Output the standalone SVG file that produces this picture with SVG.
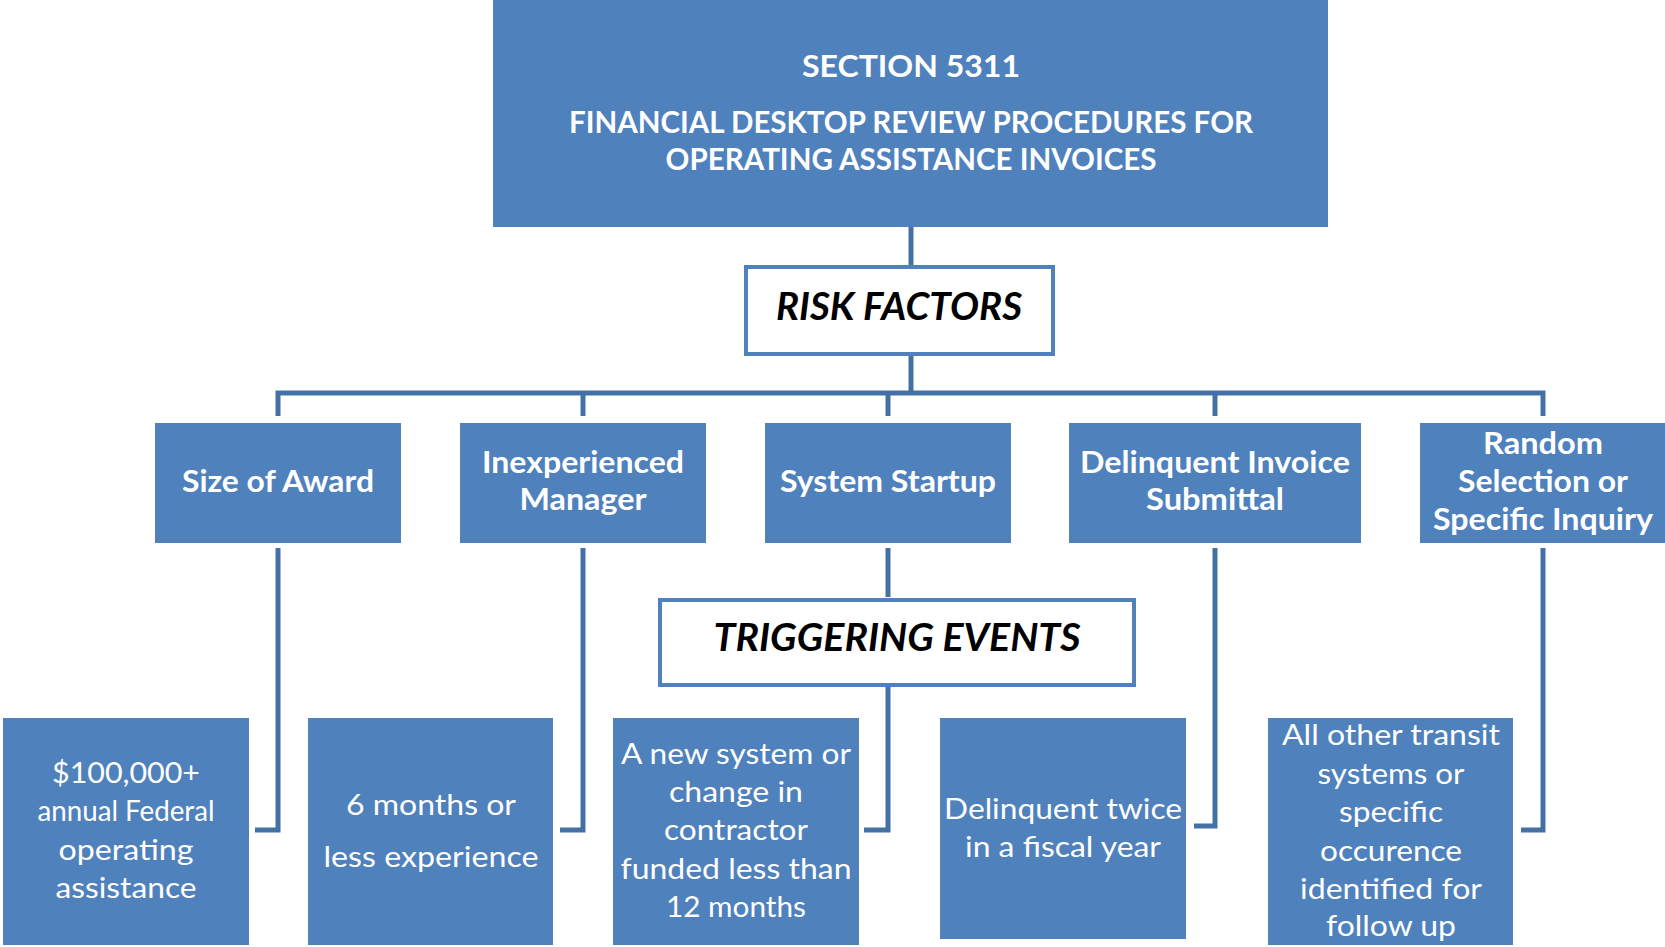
<svg xmlns="http://www.w3.org/2000/svg" width="1665" height="947" viewBox="0 0 1665 947">
  <style>
    .box { fill: #4F81BD; }
    .frame { fill: #FFFFFF; stroke: #4F81BD; stroke-width: 4; }
    .link { fill: none; stroke: #4570A6; stroke-width: 5; stroke-linejoin: miter; }
    text { text-anchor: middle; font-family: Lato, "Liberation Sans", sans-serif; }
    .title { font-weight: bold; font-size: 31px; fill: #FFFFFF; }
    .head { font-weight: bold; font-style: italic; font-size: 38px; fill: #000000; }
    .factor { font-weight: bold; font-size: 30px; fill: #FFFFFF; }
    .event { font-size: 29px; fill: #FFFFFF; }
  </style>

  <rect width="1665" height="947" fill="#FFFFFF"/>

  <!-- connectors -->
  <g id="connectors">
    <path class="link" d="M911 227 V265"/>
    <path class="link" d="M911 355 V393"/>
    <path class="link" d="M278 416 V393 H1543 V416"/>
    <path class="link" d="M583 393 V416"/>
    <path class="link" d="M888 393 V416"/>
    <path class="link" d="M1215 393 V416"/>
    <path class="link" d="M278 548 V830 H255"/>
    <path class="link" d="M583 548 V830 H560"/>
    <path class="link" d="M888 548 V597"/>
    <path class="link" d="M888 687 V830 H864"/>
    <path class="link" d="M1215 548 V826 H1194"/>
    <path class="link" d="M1543 548 V830 H1521"/>
  </g>

  <!-- title -->
  <g id="section-5311">
    <rect class="box" x="493" y="0" width="835" height="227"/>
    <text class="title" x="911" y="77" textLength="218" lengthAdjust="spacingAndGlyphs">SECTION 5311</text>
    <text class="title" x="911" y="133" textLength="684" lengthAdjust="spacingAndGlyphs">FINANCIAL DESKTOP REVIEW PROCEDURES FOR</text>
    <text class="title" x="911" y="170" textLength="491" lengthAdjust="spacingAndGlyphs">OPERATING ASSISTANCE INVOICES</text>
  </g>

  <g id="risk-factors">
    <rect class="frame" x="746" y="267" width="307" height="87"/>
    <text class="head" x="899" y="320" textLength="246" lengthAdjust="spacingAndGlyphs">RISK FACTORS</text>
  </g>

  <!-- risk factor boxes -->
  <g id="size-of-award">
    <rect class="box" x="155" y="423" width="246" height="120"/>
    <text class="factor" x="278" y="492" textLength="192" lengthAdjust="spacingAndGlyphs">Size of Award</text>
  </g>
  <g id="inexperienced-manager">
    <rect class="box" x="460" y="423" width="246" height="120"/>
    <text class="factor" x="583" y="473" textLength="202" lengthAdjust="spacingAndGlyphs">Inexperienced</text>
    <text class="factor" x="583" y="510" textLength="127" lengthAdjust="spacingAndGlyphs">Manager</text>
  </g>
  <g id="system-startup">
    <rect class="box" x="765" y="423" width="246" height="120"/>
    <text class="factor" x="888" y="492" textLength="216" lengthAdjust="spacingAndGlyphs">System Startup</text>
  </g>
  <g id="delinquent-invoice">
    <rect class="box" x="1069" y="423" width="292" height="120"/>
    <text class="factor" x="1215" y="473" textLength="270" lengthAdjust="spacingAndGlyphs">Delinquent Invoice</text>
    <text class="factor" x="1215" y="510" textLength="138" lengthAdjust="spacingAndGlyphs">Submittal</text>
  </g>
  <g id="random-selection">
    <rect class="box" x="1420" y="423" width="245" height="120"/>
    <text class="factor" x="1543" y="454" textLength="120" lengthAdjust="spacingAndGlyphs">Random</text>
    <text class="factor" x="1543" y="492" textLength="170" lengthAdjust="spacingAndGlyphs">Selection or</text>
    <text class="factor" x="1543" y="530" textLength="220" lengthAdjust="spacingAndGlyphs">Specific Inquiry</text>
  </g>

  <g id="triggering-events">
    <rect class="frame" x="660" y="600" width="474" height="85"/>
    <text class="head" x="897" y="651" textLength="367" lengthAdjust="spacingAndGlyphs">TRIGGERING EVENTS</text>
  </g>

  <!-- triggering event boxes -->
  <g id="event-award">
    <rect class="box" x="3" y="718" width="246" height="227"/>
    <text class="event" x="126" y="783" textLength="148" lengthAdjust="spacingAndGlyphs">$100,000+</text>
    <text class="event" x="126" y="821" textLength="177" lengthAdjust="spacingAndGlyphs">annual Federal</text>
    <text class="event" x="126" y="860" textLength="135" lengthAdjust="spacingAndGlyphs">operating</text>
    <text class="event" x="126" y="898" textLength="141" lengthAdjust="spacingAndGlyphs">assistance</text>
  </g>
  <g id="event-manager">
    <rect class="box" x="308" y="718" width="245" height="227"/>
    <text class="event" x="431" y="815" textLength="170" lengthAdjust="spacingAndGlyphs">6 months or</text>
    <text class="event" x="431" y="867" textLength="215" lengthAdjust="spacingAndGlyphs">less experience</text>
  </g>
  <g id="event-startup">
    <rect class="box" x="613" y="718" width="246" height="227"/>
    <text class="event" x="736" y="764" textLength="230" lengthAdjust="spacingAndGlyphs">A new system or</text>
    <text class="event" x="736" y="802" textLength="134" lengthAdjust="spacingAndGlyphs">change in</text>
    <text class="event" x="736" y="840" textLength="144" lengthAdjust="spacingAndGlyphs">contractor</text>
    <text class="event" x="736" y="879" textLength="231" lengthAdjust="spacingAndGlyphs">funded less than</text>
    <text class="event" x="736" y="917" textLength="140" lengthAdjust="spacingAndGlyphs">12 months</text>
  </g>
  <g id="event-delinquent">
    <rect class="box" x="940" y="718" width="246" height="221"/>
    <text class="event" x="1063" y="819" textLength="238" lengthAdjust="spacingAndGlyphs">Delinquent twice</text>
    <text class="event" x="1063" y="857" textLength="196" lengthAdjust="spacingAndGlyphs">in a fiscal year</text>
  </g>
  <g id="event-random">
    <rect class="box" x="1268" y="718" width="245" height="227"/>
    <text class="event" x="1391" y="745" textLength="218" lengthAdjust="spacingAndGlyphs">All other transit</text>
    <text class="event" x="1391" y="784" textLength="147" lengthAdjust="spacingAndGlyphs">systems or</text>
    <text class="event" x="1391" y="822" textLength="104" lengthAdjust="spacingAndGlyphs">specific</text>
    <text class="event" x="1391" y="861" textLength="142" lengthAdjust="spacingAndGlyphs">occurence</text>
    <text class="event" x="1391" y="899" textLength="182" lengthAdjust="spacingAndGlyphs">identified for</text>
    <text class="event" x="1391" y="936" textLength="130" lengthAdjust="spacingAndGlyphs">follow up</text>
  </g>
</svg>
